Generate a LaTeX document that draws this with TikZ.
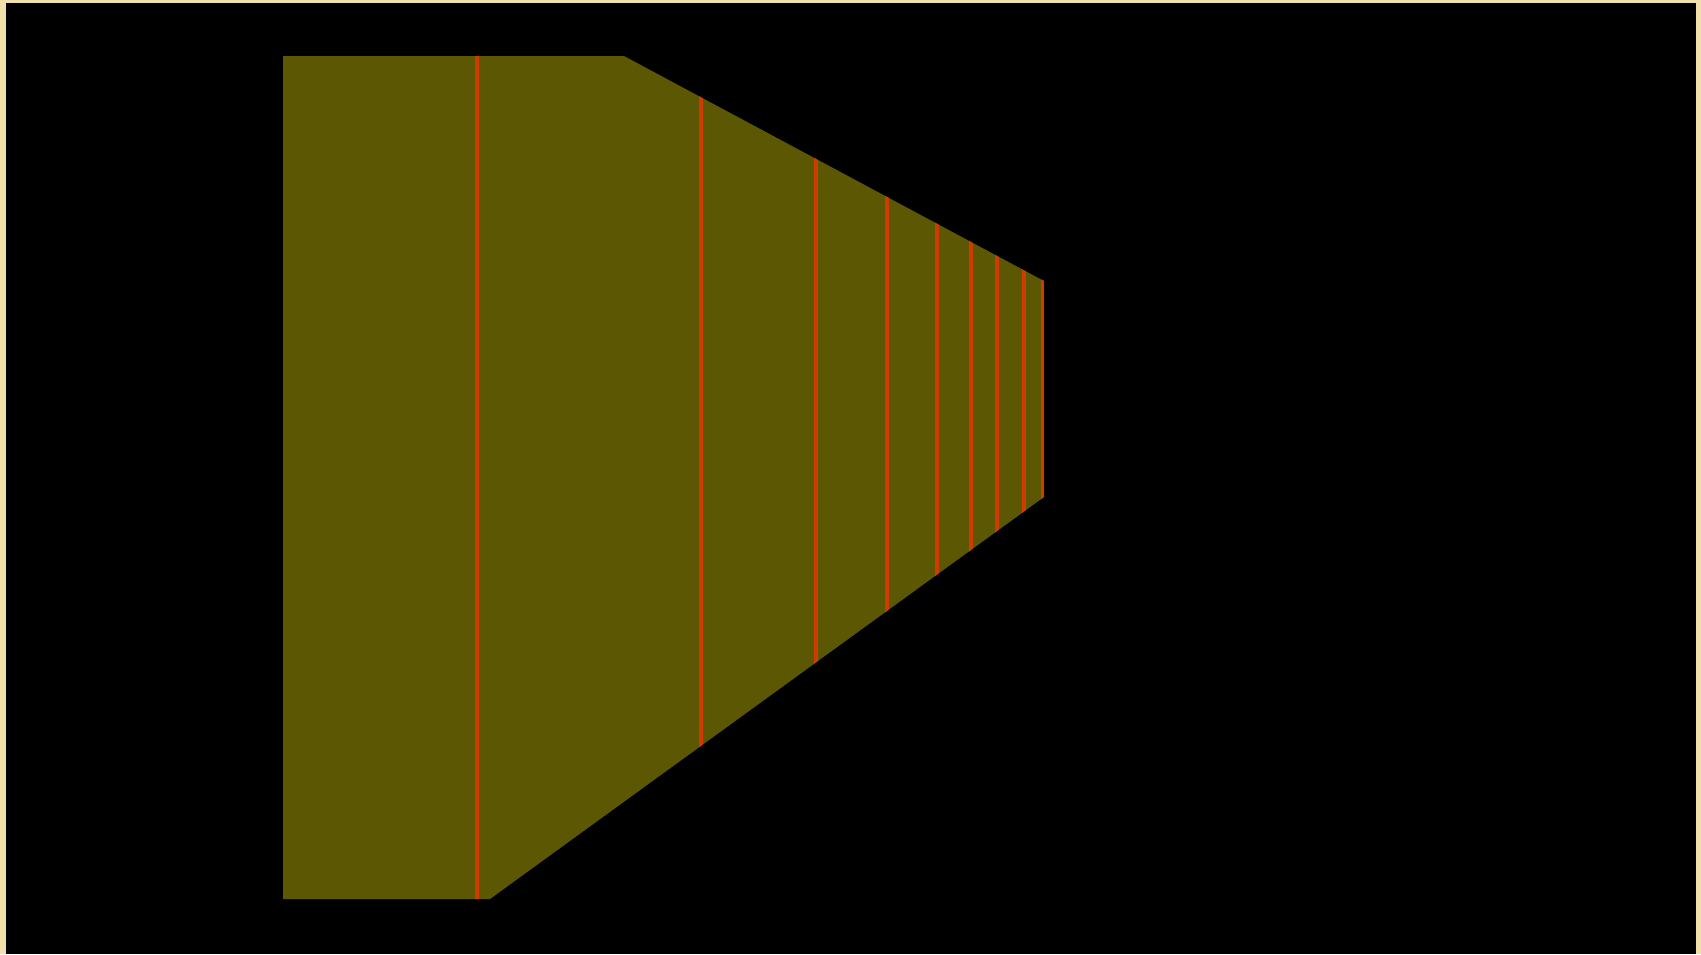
\documentclass[tikz,border=0pt]{standalone}
\definecolor{frame}{RGB}{242,224,170}
\definecolor{olive}{RGB}{91,87,3}
\definecolor{redline}{RGB}{208,60,0}
\tikzset{
  stripe/.style={draw=redline, line width=4.6pt},
  wall/.style={fill=olive, draw=none}
}
\begin{document}
\begin{tikzpicture}[x=1pt,y=-1pt]
\useasboundingbox (0,0) rectangle (1701,954);
\fill[frame] (0,0) rectangle (1701,954);
\fill[black] (6,3) rectangle (1696,954);
\coordinate (tl) at (283,56);
\coordinate (tm) at (624,56);
\coordinate (tr) at (1044,281);
\coordinate (br) at (1044,497);
\coordinate (bm) at (490,899);
\coordinate (bl) at (283,899);
\fill[wall] (tl) -- (tm) -- (tr) -- (br) -- (bm) -- (bl) -- cycle;
\begin{scope}
\clip (tl) -- (tm) -- (tr) -- (br) -- (bm) -- (bl) -- cycle;
\foreach \x in {477,701,816,887,937,971,997,1024,1043}{
  \draw[stripe] (\x,40) -- (\x,920);
}
\end{scope}
\end{tikzpicture}
\end{document}
